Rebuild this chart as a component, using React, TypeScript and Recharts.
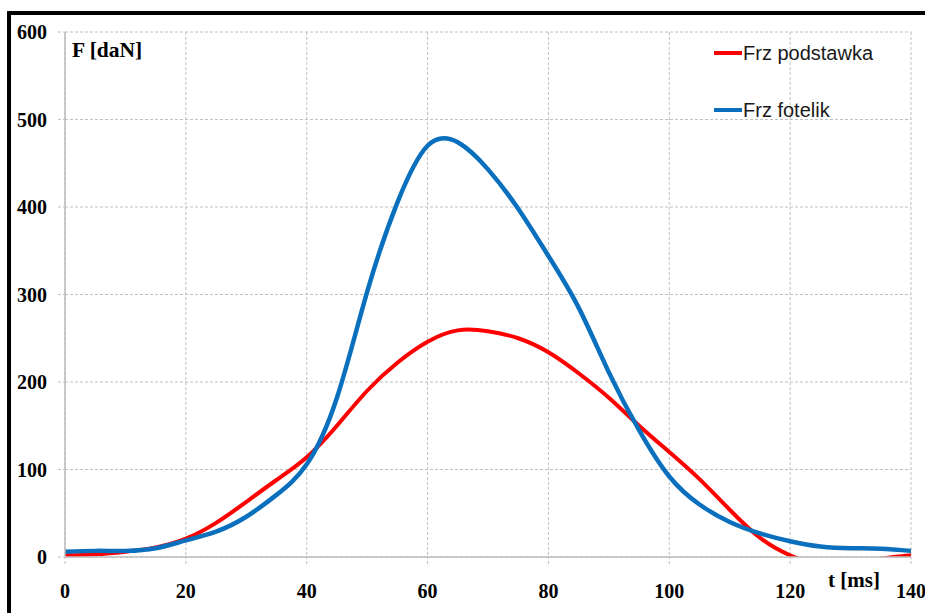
import React from 'react';
import { LineChart, Line, XAxis, YAxis, CartesianGrid, Legend, Label } from 'recharts';

const times = [0, 5, 10, 15, 20, 25, 30, 35, 40, 45, 50, 55, 60, 65, 70, 75, 80, 85, 90, 95, 100, 105, 110, 115, 120, 125, 130, 135, 140];
const frzPodstawka = [2, 3, 6, 11, 21, 39, 63, 88, 114, 150, 190, 222, 246, 259, 258, 250, 234, 210, 182, 150, 120, 89, 54, 22, 2, -8, -8, -2, 2];
const frzFotelik = [6, 7, 7, 10, 19, 29, 46, 71, 106, 182, 303, 405, 470, 474, 443, 398, 344, 285, 211, 145, 92, 60, 40, 27, 18, 12, 10, 9.5, 7];
const xTicks = [0, 20, 40, 60, 80, 100, 120, 140];
const yTicks = [0, 100, 200, 300, 400, 500, 600];
const seriesNames = ['Frz podstawka', 'Frz fotelik'];
const yTitle = 'F [daN]';
const xTitle = 't [ms]';

const data = times.map((t, i) => ({ t, a: frzPodstawka[i], b: frzFotelik[i] }));

const serif = '"Liberation Serif", "Times New Roman", serif';
const sans = '"Liberation Sans", Arial, sans-serif';
const grid = '#c0c0c0';

const LegendContent = (props: any) => {
  const items = [...(props.payload || [])].sort(
    (p: any, q: any) => seriesNames.indexOf(p.value) - seriesNames.indexOf(q.value)
  );
  return (
    <div style={{ position: 'relative', width: 200, height: 100 }}>
      {items.map((p: any, i: number) => (
        <div key={i} style={{ position: 'absolute', left: 0, top: i * 57, height: 24, display: 'flex', alignItems: 'center' }}>
          <div style={{ width: 28, height: 4, background: p.color }} />
          <span style={{ fontFamily: sans, fontSize: 20, color: '#1a1a1a', marginLeft: 1 }}>{p.value}</span>
        </div>
      ))}
    </div>
  );
};

export default function App() {
  return (
    <div style={{ position: 'relative', width: 925, height: 613, overflow: 'hidden', background: '#fff' }}>
      <style>{`body{margin:0;overflow:hidden}`}</style>
      <div style={{ position: 'absolute', left: 7, top: 11, width: 940, height: 640, borderTop: '4px solid #000', borderLeft: '4px solid #000', boxSizing: 'border-box' }} />
      <div style={{ position: 'absolute', left: 0, top: 0 }}>
        <LineChart width={925} height={613} data={data} margin={{ top: 32, right: 14, bottom: 0, left: 0 }}>
          <CartesianGrid stroke={grid} strokeDasharray="3 2" />
          <XAxis
            dataKey="t"
            type="number"
            domain={[0, 140]}
            ticks={xTicks}
            interval={0}
            height={56}
            axisLine={{ stroke: '#bdbdbd', strokeWidth: 1.5 }}
            tickLine={{ stroke: grid, strokeDasharray: '3 2' }}
            tickSize={7}
            tickMargin={20}
            tick={{ fontFamily: serif, fontSize: 20, fontWeight: 'bold', fill: '#000' }}
          >
            <Label
              content={(p: any) => (
                <text x={p.viewBox.x + p.viewBox.width - 83} y={p.viewBox.y + 30} fontFamily={serif} fontSize={21} fontWeight="bold" fill="#000">
                  {xTitle}
                </text>
              )}
            />
          </XAxis>
          <YAxis
            type="number"
            domain={[0, 600]}
            ticks={yTicks}
            interval={0}
            allowDataOverflow
            width={65}
            axisLine={{ stroke: '#bdbdbd', strokeWidth: 1.5 }}
            tickLine={{ stroke: grid, strokeDasharray: '3 2' }}
            tickSize={7}
            tickMargin={11}
            tick={{ fontFamily: serif, fontSize: 20, fontWeight: 'bold', fill: '#000' }}
          >
            <Label
              content={(p: any) => (
                <text x={p.viewBox.x + p.viewBox.width + 7} y={p.viewBox.y + 25} fontFamily={serif} fontSize={21.5} fontWeight="bold" fill="#000">
                  {yTitle}
                </text>
              )}
            />
          </YAxis>
          <Legend
            layout="vertical"
            verticalAlign="middle"
            align="center"
            wrapperStyle={{ position: 'absolute', left: 714, top: 41, width: 200 }}
            content={LegendContent}
          />
          <Line type="natural" dataKey="a" name={seriesNames[0]} stroke="#ff0000" strokeWidth={4} dot={false} activeDot={false} isAnimationActive={false} />
          <Line type="natural" dataKey="b" name={seriesNames[1]} stroke="#0a70be" strokeWidth={4.5} dot={false} activeDot={false} isAnimationActive={false} />
        </LineChart>
      </div>
    </div>
  );
}
